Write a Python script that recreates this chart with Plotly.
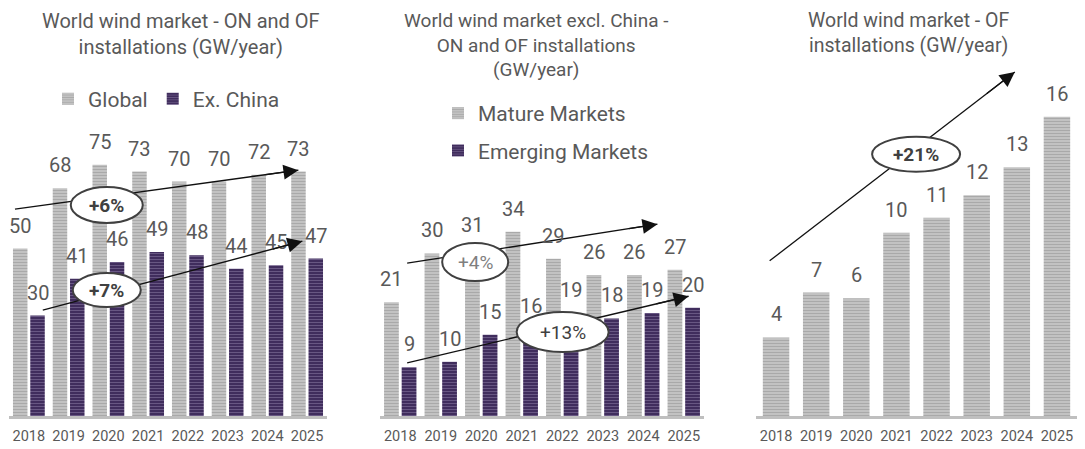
import plotly.graph_objects as go

# ---- data -----------------------------------------------------------------
years = ["2018", "2019", "2020", "2021", "2022", "2023", "2024", "2025"]

global_gw = [50, 68, 75, 73, 70, 70, 72, 73]
ex_china_gw = [30, 41, 46, 49, 48, 44, 45, 47]

mature_gw = [21, 30, 31, 34, 29, 26, 26, 27]
emerging_gw = [9, 10, 15, 16, 19, 18, 19, 20]

offshore_gw = [4.2, 6.6, 6.3, 9.8, 10.6, 11.8, 13.3, 16.0]

cagr_labels = ["+6%", "+7%", "+4%", "+13%", "+21%"]

# ---- style ----------------------------------------------------------------
# the page body adds an 8px margin, so the figure is a bit smaller than the window
OX, OY = 8, 8
W, H = 1085 - 2 * OX, 449 - OY
FONT = "Roboto, 'Open Sans', sans-serif"
TEXT = "#595959"

GREY = dict(color="#c6c6c6", line={"width": 0},
            pattern={"shape": "-", "fgcolor": "#8c8c8c", "size": 3,
                     "solidity": 0.45, "fillmode": "overlay"})
PURPLE = dict(color="#3b2858", line={"width": 0},
              pattern={"shape": "-", "fgcolor": "#9585ad", "size": 3,
                       "solidity": 0.4, "fillmode": "overlay"})

BAR_W = 0.365
LEFT_OFF, RIGHT_OFF = -0.40, 0.035


def fx(px):
    return (px - OX) / W


def fy(py):
    return 1 - (py - OY) / H


y_dom = [fy(416), fy(60)]

fig = go.Figure()

# chart 1
fig.add_trace(go.Bar(x=years, y=global_gw, name="Global", xaxis="x", yaxis="y",
                     offset=LEFT_OFF, width=BAR_W, marker=GREY, legend="legend",
                     legendgroup="g1"))
fig.add_trace(go.Bar(x=years, y=ex_china_gw, name="Ex. China", xaxis="x", yaxis="y",
                     offset=RIGHT_OFF, width=BAR_W, marker=PURPLE, legend="legend",
                     legendgroup="g2"))
# chart 2
fig.add_trace(go.Bar(x=years, y=mature_gw, name="Mature Markets", xaxis="x2", yaxis="y2",
                     offset=LEFT_OFF, width=BAR_W, marker=GREY, legend="legend2",
                     legendgroup="g3"))
fig.add_trace(go.Bar(x=years, y=emerging_gw, name="Emerging Markets", xaxis="x2", yaxis="y2",
                     offset=RIGHT_OFF, width=BAR_W, marker=PURPLE, legend="legend2",
                     legendgroup="g4"))
# chart 3
fig.add_trace(go.Bar(x=years, y=offshore_gw, name="OF", xaxis="x3", yaxis="y3",
                     width=0.66, marker=GREY, showlegend=False))

annotations = []
shapes = []

label_font = {"size": 20, "color": TEXT, "family": FONT}
mid = BAR_W / 2


def value_labels(values, axis, dx):
    for i, v in enumerate(values):
        annotations.append(dict(
            x=i + dx, y=v, xref="x" + axis, yref="y" + axis, text=f"{v:.0f}",
            showarrow=False, yshift=23, yanchor="middle", font=label_font))


value_labels(global_gw, "", LEFT_OFF + mid)
value_labels(ex_china_gw, "", RIGHT_OFF + mid)
value_labels(mature_gw, "2", LEFT_OFF + mid)
value_labels(emerging_gw, "2", RIGHT_OFF + mid)
value_labels(offshore_gw, "3", 0)

# trend arrows: (axis, start, end, ellipse centre, ellipse size px, bold, text colour)
trends = [
    ("", (-0.35, 61.8), (6.78, 73.4), (1.96, 63.0), (72, 36), True, "#404040"),
    ("", (0.35, 31.6), (6.88, 52.2), (1.96, 37.6), (68, 34), True, "#404040"),
    ("2", (0.17, 28.2), (6.35, 35.4), (1.85, 28.4), (66, 38), False, "#7f7f7f"),
    ("2", (0.17, 9.8), (7.12, 22.1), (4.01, 15.5), (92, 40), False, "#404040"),
    ("3", (-0.16, 8.3), (5.95, 18.4), (3.49, 14.0), (88, 35), True, "#404040"),
]

for label, (ax, (x0, y0), (x1, y1), (cx, cy), (ew, eh), bold, col) in zip(cagr_labels, trends):
    xr, yr = "x" + ax, "y" + ax
    shapes.append(dict(type="line", xref=xr, yref=yr, x0=x0, y0=y0, x1=x1, y1=y1,
                       line={"color": "#111111", "width": 1.3}, layer="above"))
    annotations.append(dict(
        x=x1, y=y1, ax=x1 - 0.12 * (x1 - x0), ay=y1 - 0.12 * (y1 - y0),
        xref=xr, yref=yr, axref=xr, ayref=yr, text="", showarrow=True,
        arrowhead=2, arrowsize=2.3, arrowwidth=1.3, arrowcolor="#111111", standoff=0))
    shapes.append(dict(type="circle", xref=xr, yref=yr, xsizemode="pixel", ysizemode="pixel",
                       xanchor=cx, yanchor=cy, x0=-ew / 2, x1=ew / 2, y0=-eh / 2, y1=eh / 2,
                       fillcolor="white", line={"color": "#404040", "width": 2}, layer="above"))
    annotations.append(dict(
        x=cx, y=cy, xref=xr, yref=yr, showarrow=False,
        text=f"<b>{label}</b>" if bold else label,
        font={"size": 19, "color": col, "family": FONT}))

# titles: (centre x px, font size, text) - all hang from the top of the figure
titles = [
    (181, 20, "World wind market - ON and OF<br>installations (GW/year)"),
    (536, 19, "World wind market excl. China -<br>ON and OF installations<br>(GW/year)"),
    (909, 19.5, "World wind market - OF<br>installations (GW/year)"),
]
for cx, size, txt in titles:
    annotations.append(dict(x=fx(cx), y=1, xref="paper", yref="paper", borderpad=0,
                            xanchor="center", yanchor="top", showarrow=False, text=txt,
                            font={"size": size, "color": TEXT, "family": FONT}))

xaxis_style = dict(type="category", range=[-0.5, 7.5], showline=True, linecolor="#bfbfbf",
                   linewidth=3, showgrid=False, ticks="", ticklabelstandoff=5,
                   tickfont={"size": 14.5, "color": TEXT, "family": FONT}, fixedrange=True)
yaxis_style = dict(visible=False, showgrid=False, zeroline=False, fixedrange=True)

legend_font = {"size": 21, "color": TEXT, "family": FONT}

fig.update_layout(
    width=W, height=H,
    margin={"l": 0, "r": 0, "t": 0, "b": 0},
    paper_bgcolor="white", plot_bgcolor="white",
    barmode="overlay",
    font={"family": FONT, "color": TEXT},
    xaxis=dict(domain=[fx(9), fx(327)], anchor="y", **xaxis_style),
    yaxis=dict(domain=y_dom, range=[0, 106.3], anchor="x", **yaxis_style),
    xaxis2=dict(domain=[fx(380), fx(704)], anchor="y2", **xaxis_style),
    yaxis2=dict(domain=y_dom, range=[0, 65.7], anchor="x2", **yaxis_style),
    xaxis3=dict(domain=[fx(756), 1], anchor="y3", **xaxis_style),
    yaxis3=dict(domain=y_dom, range=[0, 19.04], anchor="x3", **yaxis_style),
    legend=dict(orientation="h", x=fx(48), y=fy(99), xanchor="left", yanchor="middle",
                font=legend_font, itemwidth=30, bgcolor="rgba(0,0,0,0)"),
    legend2=dict(orientation="v", x=fx(438), y=fy(93), xanchor="left", yanchor="top",
                 font=legend_font, itemwidth=30, tracegroupgap=7, bgcolor="rgba(0,0,0,0)"),
    annotations=annotations,
    shapes=shapes,
)

fig.write_html("out.html")
